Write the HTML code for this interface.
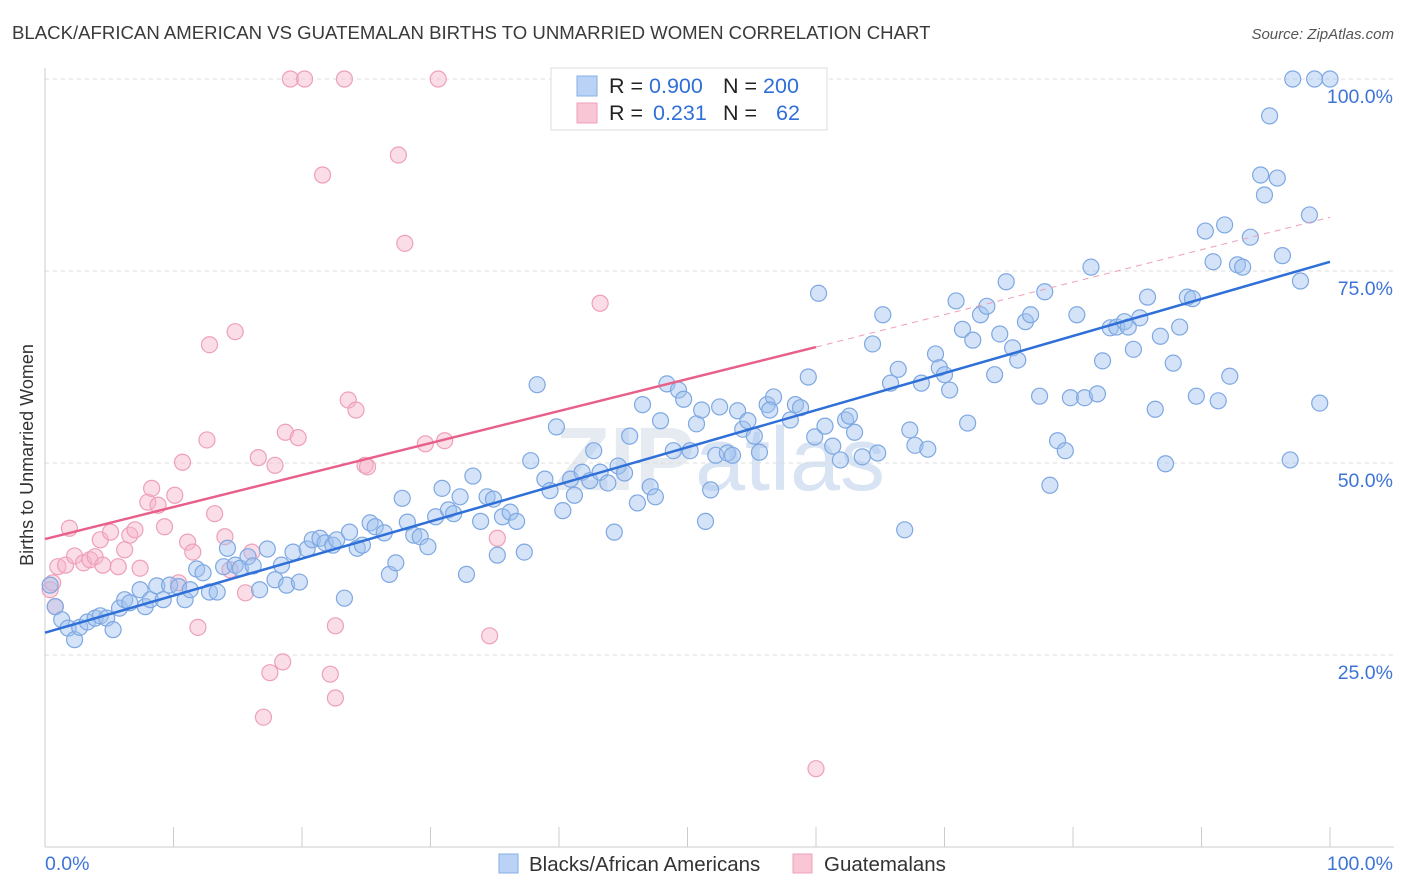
<!DOCTYPE html>
<html><head><meta charset="utf-8">
<style>
body{margin:0;background:#fff;font-family:"Liberation Sans",sans-serif;}
#wrap{position:relative;width:1406px;height:892px;overflow:hidden;}
</style></head>
<body>
<div id="wrap">
<svg id="chart" width="1406" height="892" xmlns="http://www.w3.org/2000/svg">
<text x="12" y="39" font-size="18.6" fill="#3a3a3a">BLACK/AFRICAN AMERICAN VS GUATEMALAN BIRTHS TO UNMARRIED WOMEN CORRELATION CHART</text>
<text x="1394" y="39" font-size="15" fill="#555" font-style="italic" text-anchor="end">Source: ZipAtlas.com</text>
<text x="33" y="455" font-size="18" fill="#333" text-anchor="middle" transform="rotate(-90 33 455)">Births to Unmarried Women</text>
<text x="720" y="490" font-size="90" fill="#e6ebf2" text-anchor="middle" font-weight="bold">ZIP<tspan fill="#d8e3f3" font-weight="normal">atlas</tspan></text>
<g id="grid"></g><g id="axes"></g><g id="pts"></g><g id="lines"></g>
<g>
<rect x="551" y="68" width="276" height="62" fill="#fff" stroke="#ddd"/>
<rect x="577" y="76" width="20" height="20" fill="#b9d2f5" stroke="#86aee6"/>
<rect x="577" y="103" width="20" height="20" fill="#f9c6d6" stroke="#eea0b8"/>
<text x="609" y="93" font-size="21.5" fill="#222">R = <tspan fill="#2f6fd8">0.900</tspan></text>
<text x="723" y="93" font-size="21.5" fill="#222">N = <tspan fill="#2f6fd8">200</tspan></text>
<text x="609" y="120" font-size="21.5" fill="#222">R = <tspan fill="#2f6fd8" x="653">0.231</tspan></text>
<text x="723" y="120" font-size="21.5" fill="#222">N = <tspan fill="#2f6fd8" x="776">62</tspan></text>
</g>
<g>
<rect x="499" y="854" width="19" height="19" fill="#b9d2f5" stroke="#86aee6"/>
<text x="529" y="871" font-size="20.5" fill="#333">Blacks/African Americans</text>
<rect x="793" y="854" width="19" height="19" fill="#f9c6d6" stroke="#eea0b8"/>
<text x="824" y="871" font-size="20.5" fill="#333">Guatemalans</text>
</g>
</svg>
</div>
<script>
const blueX=[0.4,0.8,1.3,1.8,2.3,2.7,3.3,3.9,4.3,4.8,5.3,5.8,6.2,6.6,7.4,7.8,8.2,8.7,9.2,9.7,10.4,10.9,11.3,11.8,12.3,12.8,13.4,13.9,14.2,14.8,15.2,15.8,16.2,16.7,17.3,17.9,18.4,18.8,19.3,19.8,20.4,20.8,21.4,21.8,22.4,22.7,23.3,23.7,24.3,24.7,25.3,25.7,26.4,26.8,27.3,27.8,28.2,28.7,29.2,29.8,30.4,30.9,31.4,31.8,32.3,32.8,33.3,33.9,34.4,34.9,35.2,35.6,36.2,36.7,37.3,37.8,38.3,38.9,39.3,39.8,40.3,40.9,41.2,41.8,42.4,42.7,43.2,43.8,44.3,44.6,45.1,45.5,46.1,46.5,47.1,47.5,47.9,48.4,48.9,49.3,49.7,50.2,50.7,51.1,51.4,51.8,52.2,52.5,53.1,53.5,53.9,54.3,54.7,55.2,55.6,56.2,56.7,56.4,58.0,58.4,58.8,59.4,59.9,60.2,60.7,61.3,61.9,62.3,62.6,63.0,63.6,64.4,64.8,65.2,65.8,66.4,66.9,67.3,67.7,68.2,68.7,69.3,69.6,70.0,70.4,70.9,71.4,71.8,72.2,72.8,73.3,73.9,74.3,74.8,75.3,75.7,76.3,76.7,77.4,77.8,78.2,78.8,79.4,79.8,80.3,80.9,81.4,81.9,82.3,82.9,83.4,84.0,84.3,84.7,85.2,85.8,86.4,86.8,87.2,87.8,88.3,88.9,89.3,89.6,90.3,90.9,91.3,91.8,92.2,92.8,93.2,93.8,94.6,94.9,95.3,95.9,96.3,96.9,97.1,97.7,98.4,98.8,99.2,100];
const blueY=[34.1,31.3,29.6,28.5,27.0,28.6,29.3,29.8,30.1,29.8,28.3,31.1,32.2,31.8,33.5,31.3,32.2,34.0,32.2,34.1,33.9,32.2,33.5,36.2,35.7,33.2,33.2,36.5,38.9,36.7,36.3,37.8,36.6,33.5,38.8,34.8,36.7,34.1,38.4,34.5,38.8,40.0,40.2,39.6,39.3,40.0,32.4,41.0,38.9,39.3,42.2,41.7,40.9,35.5,37.0,45.4,42.3,40.6,40.4,39.1,43.0,46.7,43.9,43.4,45.6,35.5,48.3,42.4,45.6,45.3,38.0,43.0,43.6,42.4,38.4,50.3,60.2,47.9,46.4,54.7,43.8,47.9,45.8,48.8,47.7,51.6,48.8,47.4,41.0,49.6,48.7,53.5,44.8,57.6,46.9,45.6,55.5,60.3,51.6,59.5,58.3,51.6,55.1,56.9,42.4,46.5,51.0,57.3,51.3,51.0,56.8,54.4,55.5,53.5,51.4,57.6,58.6,56.9,55.6,57.6,57.2,61.2,53.4,72.1,54.8,52.2,50.4,55.6,56.1,54.0,50.8,65.5,51.3,69.3,60.4,62.2,41.3,54.3,52.3,60.4,51.8,64.2,62.4,61.5,59.5,71.1,67.4,55.2,66.0,69.3,70.4,61.5,66.8,73.6,65.0,63.4,68.4,69.3,58.7,72.3,47.1,52.9,51.6,58.5,69.3,58.5,75.5,59.0,63.3,67.6,67.7,68.4,67.7,64.8,68.9,71.6,57.0,66.5,49.9,63.0,67.7,71.6,71.4,58.7,80.2,76.2,58.1,81.0,61.3,75.8,75.5,79.4,87.5,84.9,95.2,87.1,77.0,50.4,100,73.7,82.3,100,57.8,100];
const pinkX=[0.4,0.8,0.6,1.0,1.6,1.9,2.3,3.0,3.5,3.9,4.3,4.5,5.1,5.7,6.2,6.6,7.0,7.4,8.0,8.3,8.8,9.3,10.1,10.4,10.7,11.1,11.5,11.9,12.6,12.8,13.2,14.0,14.4,14.8,15.6,16.1,16.6,17.0,17.5,17.9,18.5,18.7,19.7,19.1,20.2,21.6,22.2,22.6,22.6,23.3,23.6,24.2,24.9,25.1,27.5,28.0,29.6,30.6,31.1,34.6,35.2,43.2,60.0];
const pinkY=[33.5,31.3,34.4,36.5,36.7,41.5,37.9,37.0,37.4,37.8,40.0,36.7,41.0,36.5,38.7,40.6,41.3,36.3,44.9,46.7,44.5,41.7,45.8,34.4,50.1,39.7,38.4,28.6,53.0,65.4,43.4,40.4,36.1,67.1,33.1,38.4,50.7,16.9,22.7,49.7,24.1,54.0,53.3,100,100,87.5,22.5,19.4,28.8,100,58.2,56.9,49.7,49.5,90.1,78.6,52.5,100,52.9,27.5,40.2,70.8,10.2];
const blueLine=[27.9,76.2];
const pinkLine=[40.1,65.1,82.0];
const yTicks=[25,50,75,100];
const yTickLabels=["25.0%","50.0%","75.0%","100.0%"];
const xTicks=[0,10,20,30,40,50,60,70,80,90,100];

const X0=45,X1=1330,Y0=847,Y1=79;
const sx=v=>X0+(X1-X0)*v/100;
const sy=v=>Y0-(Y0-Y1)*v/100;
const NS="http://www.w3.org/2000/svg";
function mk(tag,attrs,parent){const e=document.createElementNS(NS,tag);for(const k in attrs)e.setAttribute(k,attrs[k]);parent.appendChild(e);return e;}
const grid=document.getElementById('grid'),axes=document.getElementById('axes'),pts=document.getElementById('pts'),lines=document.getElementById('lines');
yTicks.forEach((t,i)=>{
  const g=mk('line',{x1:X0,x2:1394,y1:sy(t),y2:sy(t),stroke:'#dcdcdc','stroke-dasharray':'4,4'},grid);
  
  
  const l=mk('text',{x:1393,y:sy(t)+24,'font-size':19.5,fill:'#3d74d6','text-anchor':'end'},axes);
  l.textContent=yTickLabels[i];
  
  
});
const ya=mk('line',{x1:X0,x2:X0,y1:68,y2:Y0,stroke:'#ccc'},axes);


const xa=mk('line',{x1:X0,x2:1394,y1:Y0,y2:Y0,stroke:'#ccc'},axes);


xTicks.forEach(t=>{
  const tk=mk('line',{x1:sx(t),x2:sx(t),y1:827,y2:Y0,stroke:'#ccc'},axes);
  
  
});
const xl0=mk('text',{x:45,y:870,'font-size':19.5,fill:'#3d74d6'},axes);xl0.textContent='0.0%';


const xl1=mk('text',{x:1393,y:870,'font-size':19.5,fill:'#3d74d6','text-anchor':'end'},axes);xl1.textContent='100.0%';


pinkX.forEach((x,i)=>{
  const c=mk('circle',{cx:sx(x),cy:sy(pinkY[i]),r:8,fill:'rgba(246,180,202,0.45)',stroke:'#eea0b8','stroke-width':1.2},pts);
  
  
});
blueX.forEach((x,i)=>{
  const c=mk('circle',{cx:sx(x),cy:sy(blueY[i]),r:8,fill:'rgba(160,192,240,0.45)',stroke:'#7ea8e2','stroke-width':1.2},pts);
  
  
});
const bl=mk('line',{x1:sx(0),y1:sy(blueLine[0]),x2:sx(100),y2:sy(blueLine[1]),stroke:'#2f6fd8','stroke-width':2.5},lines);


const pl=mk('line',{x1:sx(0),y1:sy(pinkLine[0]),x2:sx(60),y2:sy(pinkLine[1]),stroke:'#e8608a','stroke-width':2.5},lines);


const pd=mk('line',{x1:sx(60),y1:sy(pinkLine[1]),x2:sx(100),y2:sy(pinkLine[2]),stroke:'#eaa0b8','stroke-width':1,'stroke-dasharray':'6,5'},lines);


</script>
</body></html>
